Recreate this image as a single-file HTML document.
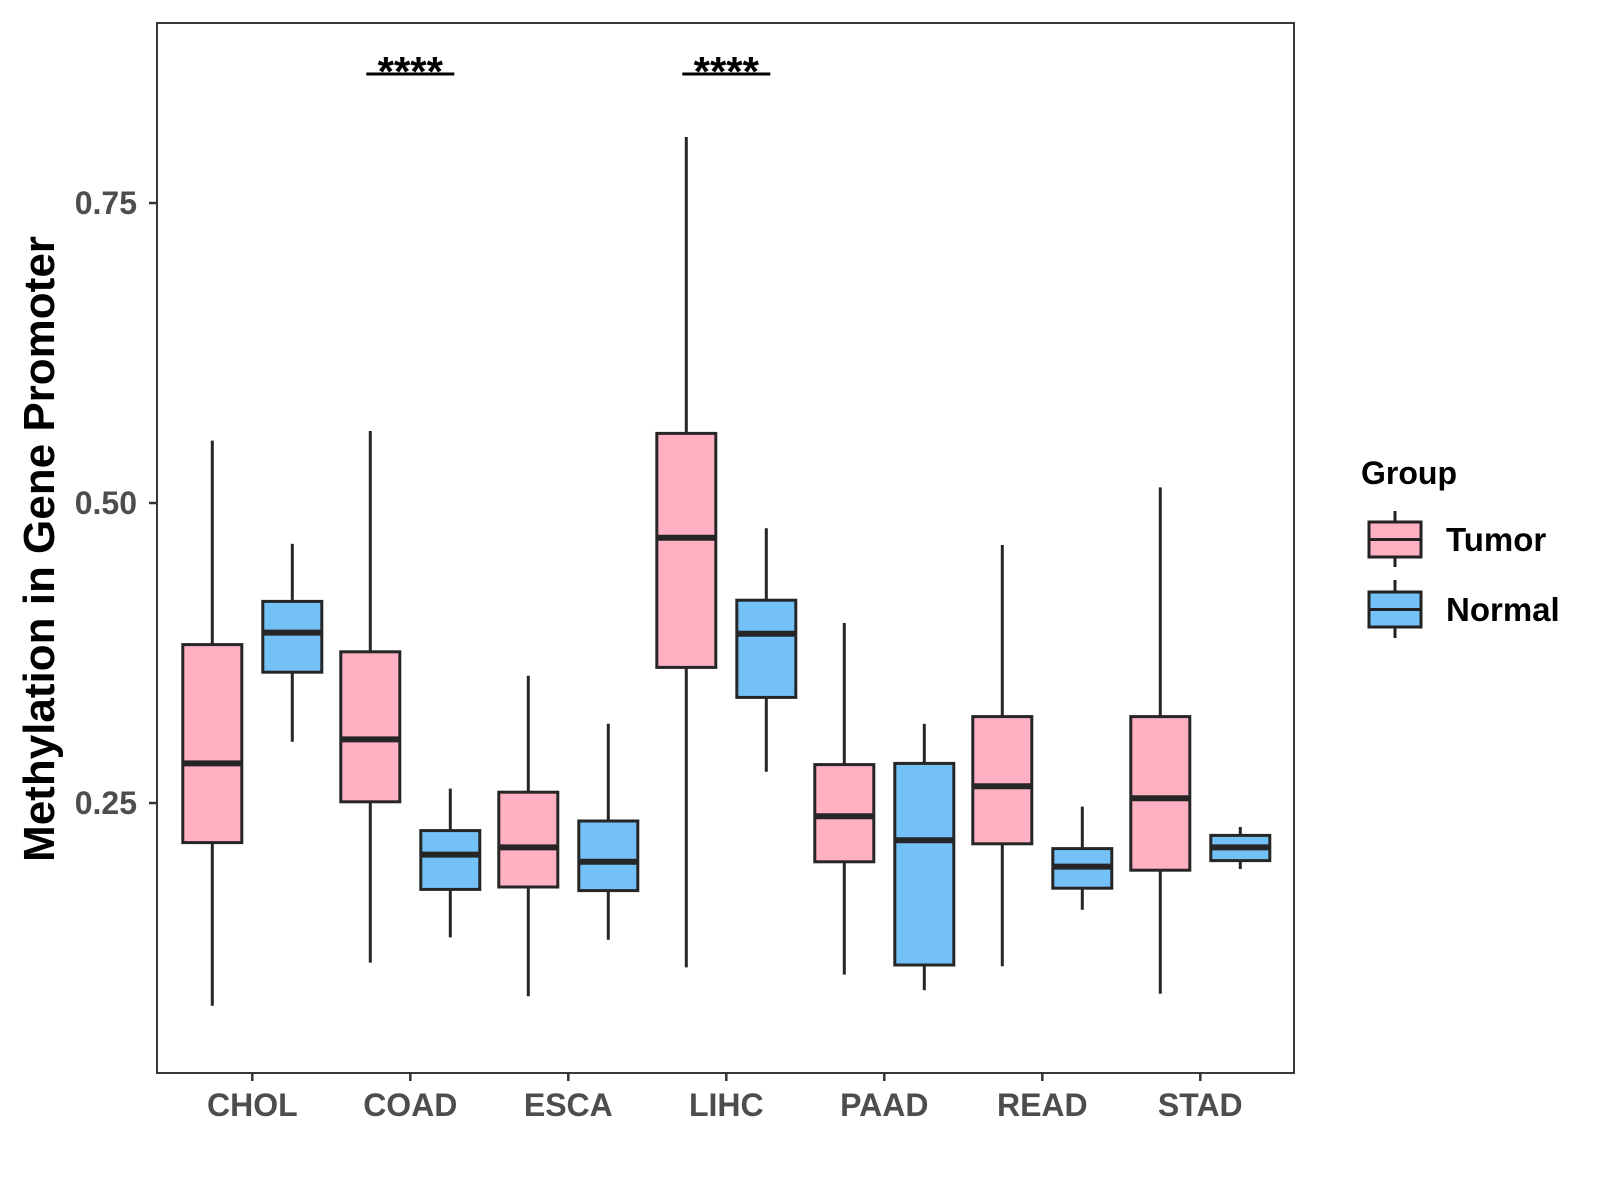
<!DOCTYPE html>
<html><head><meta charset="utf-8"><style>
html,body{margin:0;padding:0;background:#fff;}
svg{display:block;font-family:"Liberation Sans",Arial,sans-serif;}
</style></head><body>
<svg id="chart" width="1600" height="1200" viewBox="0 0 1600 1200">
<rect x="157" y="23" width="1137" height="1050" fill="#fff" stroke="#222" stroke-width="1.8"/>
<g id="yaxis"></g>
<g id="xaxis"></g>
<g id="boxes"></g>
<g id="sig"></g>
<text x="54" y="549" transform="rotate(-90 54 549)" text-anchor="middle" font-size="44" font-weight="bold" fill="#000">Methylation in Gene Promoter</text>
<g transform="translate(-7,0)">
<text x="1368" y="484" font-size="32" font-weight="bold" fill="#000">Group</text>
<g>
<line x1="1402" y1="511" x2="1402" y2="567" stroke="#222" stroke-width="3"/>
<rect x="1376" y="522" width="52" height="35" fill="#FFB0C2" stroke="#222" stroke-width="3"/>
<line x1="1376" y1="539.5" x2="1428" y2="539.5" stroke="#222" stroke-width="3"/>
<text x="1453" y="551" font-size="33" font-weight="bold" fill="#000">Tumor</text>
</g>
<g>
<line x1="1402" y1="580" x2="1402" y2="638" stroke="#222" stroke-width="3"/>
<rect x="1376" y="592" width="52" height="35" fill="#74C1F8" stroke="#222" stroke-width="3"/>
<line x1="1376" y1="609.5" x2="1428" y2="609.5" stroke="#222" stroke-width="3"/>
<text x="1453" y="621" font-size="33" font-weight="bold" fill="#000">Normal</text>
</g>
</g>
</svg>
<script>
const categories = ["CHOL","COAD","ESCA","LIHC","PAAD","READ","STAD"];
// [lowerWhisker, q1, median, q3, upperWhisker]
const tumorStats = [
  [0.081,0.217,0.283,0.382,0.552],
  [0.117,0.251,0.303,0.376,0.560],
  [0.089,0.180,0.213,0.259,0.356],
  [0.113,0.363,0.471,0.558,0.805],
  [0.107,0.201,0.239,0.282,0.400],
  [0.114,0.216,0.264,0.322,0.465],
  [0.091,0.194,0.254,0.322,0.513]
];
const normalStats = [
  [0.301,0.359,0.392,0.418,0.466],
  [0.138,0.178,0.207,0.227,0.262],
  [0.136,0.177,0.201,0.235,0.316],
  [0.276,0.338,0.391,0.419,0.479],
  [0.094,0.115,0.219,0.283,0.316],
  [0.161,0.179,0.197,0.212,0.247],
  [0.195,0.202,0.213,0.223,0.230]
];
const yTicks = [0.25,0.50,0.75];
const yTickLabels = ["0.25","0.50","0.75"];
const sigCategories = ["COAD","LIHC"];
const sigLabels = ["****","****"];
const sigLevel = 0.8575;

const NS="http://www.w3.org/2000/svg";
function yScale(v){ return 503 - (v-0.5)*1200; }
function xScale(i){ return 252.3 + i*158; }
const dodge = 40, boxW = 59;
function mk(tag, attrs, parent){ const e=document.createElementNS(NS,tag); for(const k in attrs) e.setAttribute(k,attrs[k]); parent.appendChild(e); return e; }

const yaxis=document.getElementById('yaxis');
yTicks.forEach((t,i)=>{
  const y=yScale(t);
  const l=mk('line',{x1:149,x2:157,y1:y,y2:y,stroke:'#333','stroke-width':2.5},yaxis);
  
  
  const tx=mk('text',{x:137,y:y+11,'text-anchor':'end','font-size':32,'font-weight':'bold',fill:'#4d4d4d'},yaxis);
  tx.textContent=yTickLabels[i];
  
  
});
const xaxis=document.getElementById('xaxis');
categories.forEach((c,i)=>{
  const x=xScale(i);
  const l=mk('line',{x1:x,x2:x,y1:1073,y2:1081,stroke:'#333','stroke-width':2.5},xaxis);
  
  
  const tx=mk('text',{x:x,y:1116,'text-anchor':'middle','font-size':32,'font-weight':'bold',fill:'#4d4d4d'},xaxis);
  tx.textContent=c;
  
  
});
const boxes=document.getElementById('boxes');
function drawBox(s, cx, fill, name){
  const g=mk('g',{},boxes);
  
  
  mk('line',{x1:cx,x2:cx,y1:yScale(s[4]),y2:yScale(s[3]),stroke:'#262626','stroke-width':3},g);
  mk('line',{x1:cx,x2:cx,y1:yScale(s[1]),y2:yScale(s[0]),stroke:'#262626','stroke-width':3},g);
  mk('rect',{x:cx-boxW/2,y:yScale(s[3]),width:boxW,height:yScale(s[1])-yScale(s[3]),fill:fill,stroke:'#262626','stroke-width':3},g);
  mk('line',{x1:cx-boxW/2,x2:cx+boxW/2,y1:yScale(s[2]),y2:yScale(s[2]),stroke:'#262626','stroke-width':6},g);
}
categories.forEach((c,i)=>{
  drawBox(tumorStats[i], xScale(i)-dodge, '#FFB0C2', 'box-'+c.toLowerCase()+'-tumor');
  drawBox(normalStats[i], xScale(i)+dodge, '#74C1F8', 'box-'+c.toLowerCase()+'-normal');
});
const sig=document.getElementById('sig');
sigCategories.forEach((c,k)=>{
  const i=categories.indexOf(c);
  const x=xScale(i), y=yScale(sigLevel);
  const l=mk('line',{x1:x-44,x2:x+44,y1:y,y2:y,stroke:'#000','stroke-width':3},sig);
  
  
  const t=mk('text',{x:x,y:y+12,'text-anchor':'middle','font-size':42,'font-weight':'bold',fill:'#000'},sig);
  t.textContent=sigLabels[k];
  
  
});
</script>
</body></html>
